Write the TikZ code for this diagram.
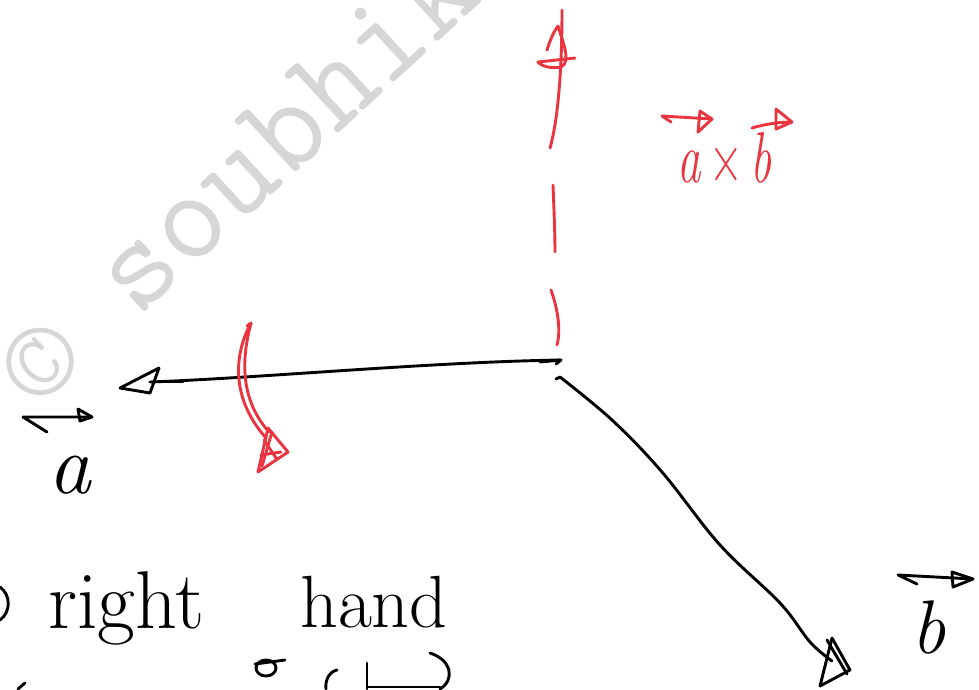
\documentclass[tikz,border=0pt]{standalone}
\usepackage{fontspec}
\usepackage{graphicx}
\definecolor{redink}{RGB}{234,52,64}
\definecolor{wmgray}{RGB}{214,214,214}
\tikzset{
  blk/.style={draw=black, line width=2.9pt, line cap=round, line join=round},
  rd/.style={draw=redink, line width=2.9pt, line cap=round, line join=round},
  wmark/.style={text=wmgray, inner sep=0pt, font=\ttfamily\fontsize{131}{131}\selectfont},
  hand/.style={inner sep=0pt, font=\fontsize{74}{76}\selectfont},
}
\begin{document}
\begin{tikzpicture}[x=1pt,y=-1pt]
\useasboundingbox (0,0) rectangle (979,689);
\clip (0,0) rectangle (979,689);
\fill[white] (0,0) rectangle (979,689);

% watermark
\node[wmark, anchor=base west, rotate=42.6] (wm) at (38,410) {\textcopyright{} soubhik};

% coordinates
\coordinate (O) at (561,360);
\coordinate (Aend) at (150,382);
\coordinate (Bstart) at (560,377);
\coordinate (Bend) at (832,661);
\coordinate (Ztop) at (562,10);
\coordinate (Zsolid) at (550,148);

% black axis towards a (left)
\draw[blk] (O) .. controls (430,362) and (260,378) .. (Aend);
\draw[blk] (540,362) -- (O) -- (556,364);
\draw[blk] (159,368) -- (120,388) -- (150,393) -- cycle;
\draw[blk] (150,382) -- (183,382);

% black axis towards b (down right)
\draw[blk] plot[smooth, tension=0.6] coordinates {(Bstart) (612,420) (662,472) (720,545) (780,603) (810,642) (Bend)};
\draw[blk] (556,379) -- (Bstart);
\draw[blk] (832,638) -- (820,686) -- (850,670) -- cycle;
\draw[blk] (827,640) -- (847,674);

% red z axis (a x b)
\draw[rd] (Ztop) .. controls (562,70) and (558,120) .. (Zsolid);
\draw[rd] (553,185) .. controls (554,210) and (555,235) .. (555,252);
\draw[rd] (551,290) .. controls (558,310) and (561,330) .. (557,345);
\draw[rd] (547,50) .. controls (551,37) and (555,30) .. (558,26)
  .. controls (562,40) and (572,62) .. (561,67)
  .. controls (551,69) and (541,66) .. (538,62) -- (575,58);

% red rotation arrow
\coordinate (Rtop) at (251,323);
\coordinate (Rend) at (266,438);
\draw[rd] (Rtop) .. controls (236,350) and (228,395) .. (Rend);
\draw[rd] (Rtop) .. controls (244,350) and (236,395) .. (269,432);
\draw[rd] (247,326) -- (Rtop);
\draw[rd] (268,428) -- (258,472) -- (288,452) -- cycle;
\draw[rd] (272,432) -- (262,466);
\draw[rd] (264,440) -- (276,458);
\draw[rd] (261,455) -- (281,452);

% red label a x b
\node[inner sep=0pt, anchor=base west, text=redink, font=\fontsize{72}{74}\selectfont] (axb) at (677,182)
  {\scalebox{0.65}[1]{\itshape a\/\upshape\,×\,\itshape b}};
\draw[rd] (671,122) -- (662,116) -- (712,119);
\draw[rd] (700,111) -- (712,119) -- (698,132) -- cycle;
\draw[rd] (752,128) .. controls (765,124) and (780,122) .. (792,122);
\draw[rd] (776,109) -- (792,122) -- (776,129) -- cycle;

% black label a
\node[hand, anchor=base, font=\itshape\fontsize{85}{86}\selectfont] (la) at (70,493) {a};
\draw[blk] (47,432) -- (23,417) -- (92,417);
\draw[blk] (78,409) -- (92,417) -- (80,421) -- cycle;

% black label b
\node[hand, anchor=base, font=\itshape\fontsize{76}{78}\selectfont] (lb) at (929,653) {b};
\draw[blk] (917,584) -- (898,575) -- (973,579);
\draw[blk] (952,572) -- (973,579) -- (953,587) -- cycle;

% text
\node[hand, anchor=base west, font=\fontsize{82}{84}\selectfont] (right) at (48,628) {right};
\node[hand, anchor=base west] (handw) at (300,627) {hand};

% fragments at the edges
\draw[blk] (0,587) .. controls (11,595) and (11,612) .. (0,620);
\draw[blk] (266,668) circle[x radius=10, y radius=8];
\draw[blk] (255,664) -- (285,660);
\draw[blk] (337,670) .. controls (328,672) and (325,682) .. (326,689);
\draw[blk] (367,663) -- (367,689);
\draw[blk] (367,687) -- (440,687);
\draw[blk] (430,653) .. controls (452,660) and (455,680) .. (440,689);
\draw[blk] (18,689) -- (25,683);
\end{tikzpicture}
\end{document}
